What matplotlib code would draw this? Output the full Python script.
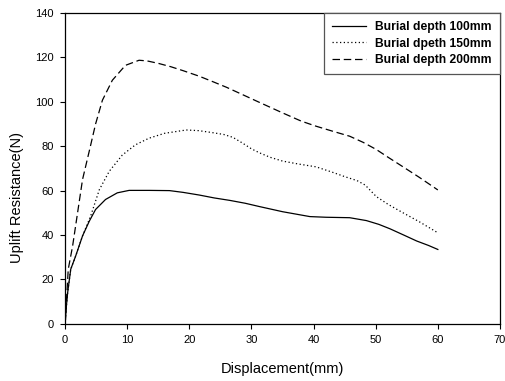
import matplotlib
matplotlib.use('Agg')
import matplotlib.pyplot as plt

plt.rcParams['font.family'] = ['Liberation Sans', 'DejaVu Sans']

# Burial depth 100mm
x100 = [0, 0.2, 0.4, 0.9, 1.7, 2.8, 3.9, 4.9, 6.5, 8.4, 10.3, 13.5, 16.8, 19, 21.6, 24, 26.5,
        29, 31.3, 35, 39.4, 42, 45.8, 48.5, 50.5, 52.3, 54.5, 56.6, 58.5, 60]
y100 = [0, 8, 14, 24.6, 30.6, 39.6, 46.3, 51.5, 56, 59, 60.1, 60.1, 60, 59.2, 58, 56.7, 55.6,
        54.3, 52.8, 50.5, 48.3, 48, 47.8, 46.5, 44.8, 42.8, 40, 37.3, 35.3, 33.5]

# Burial dpeth 150mm
x150 = [0, 0.2, 0.4, 0.9, 1.7, 2.8, 4.1, 5.5, 7.1, 9.2, 11.3, 13.5, 16, 19.5, 21.5, 23.5, 25.5,
        27, 28.5, 30, 31.3, 33, 35, 37.5, 40.4, 43, 45, 47, 48.3, 50.1, 52, 54.4, 57, 60]
y150 = [0, 8, 14, 24.6, 30.6, 39.6, 48.5, 60.4, 68.7, 76, 80.6, 83.6, 85.8, 87.3, 87, 86.2, 85.3,
        84, 81.5, 78.8, 77, 75, 73.3, 72, 70.7, 68.3, 66.3, 64.5, 62.5, 57.3, 53.8, 50, 46, 41]

# Burial depth 200mm
x200 = [0, 0.1, 0.5, 1.2, 2.0, 2.8, 3.9, 4.9, 6.0, 7.6, 9.7, 11.9, 13.2, 15, 17, 19, 21.6, 24,
        26, 28.5, 31.3, 35, 38, 40.4, 43, 45.8, 48, 50.1, 52, 54.4, 57, 60]
y200 = [0, 5, 24.6, 35, 50, 65, 78, 90, 100.7, 109.7, 116.4, 118.7, 118.4, 117.3, 115.8, 114,
        111.5, 108.8, 106.5, 103.3, 99.7, 95, 91.3, 89, 86.8, 84.5, 81.7, 78.5, 75, 70.7, 66, 60.3]

fig = plt.figure(figsize=(5.05, 3.81), dpi=100)
ax = fig.add_axes([0.129, 0.150, 0.861, 0.816])

ax.plot(x100, y100, color='black', linewidth=0.9, label='Burial depth 100mm')
ax.plot(x150, y150, color='black', linewidth=0.9, linestyle=(0, (1, 2)), label='Burial dpeth 150mm')
ax.plot(x200, y200, color='black', linewidth=0.9, linestyle=(0, (6, 3)), label='Burial depth 200mm')

ax.set_xlim(0, 70)
ax.set_ylim(0, 140)
ax.set_xticks(range(0, 71, 10))
ax.set_yticks(range(0, 141, 20))
ax.tick_params(direction='out', length=3.8, width=0.8, labelsize=8, pad=4.5)
for s in ax.spines.values():
    s.set_linewidth(0.9)

ax.set_xlabel('Displacement(mm)', fontsize=10.5, labelpad=12)
ax.set_ylabel('Uplift Resistance(N)', fontsize=10.5)
ax.yaxis.set_label_coords(-0.094, 0.405)

leg = ax.legend(loc='upper right', prop={'weight': 'bold', 'size': 8.7},
                fancybox=False, framealpha=1, edgecolor='#555555',
                borderaxespad=0, handlelength=2.8, handletextpad=0.75,
                borderpad=0.7, labelspacing=0.35)
leg.get_frame().set_linewidth(0.9)

fig.savefig('out.png', dpi=100)
